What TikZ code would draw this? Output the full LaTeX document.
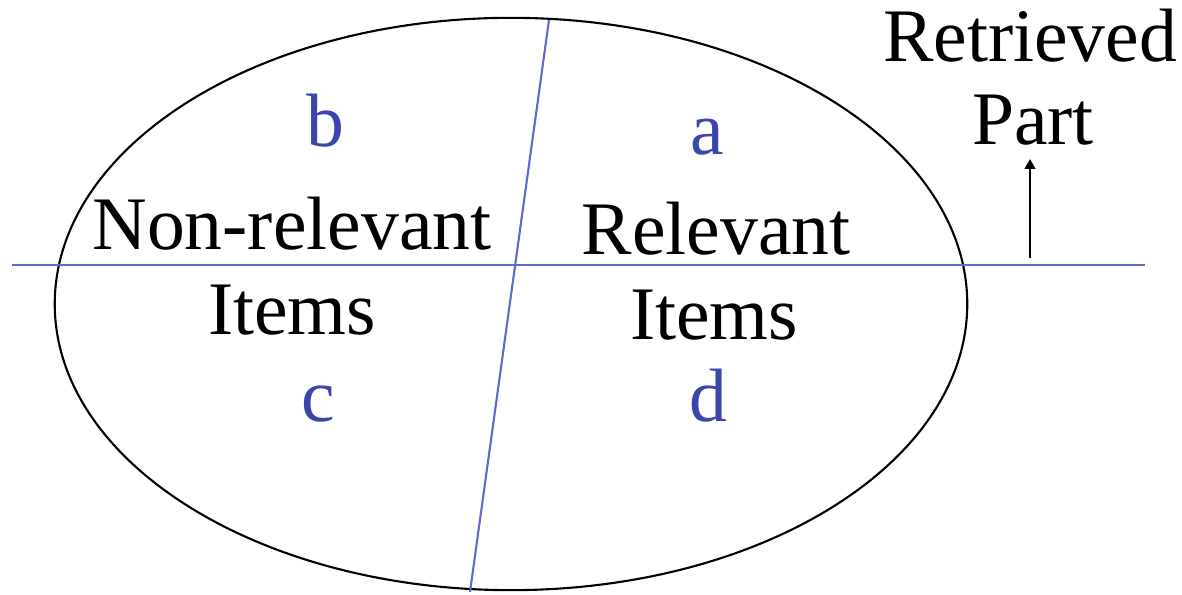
\documentclass[tikz,border=0pt]{standalone}
\usepackage{fontspec}
\setmainfont{Liberation Serif}
\usetikzlibrary{arrows.meta, shapes.geometric, positioning}

\definecolor{setblue}{RGB}{95,105,200}
\definecolor{letblue}{RGB}{60,70,170}

\begin{document}
\begin{tikzpicture}[
    x=0.01cm, y=-0.01cm,
    word/.style={anchor=base, inner sep=0pt, font=\fontsize{21.5}{24}\selectfont},
    letter/.style={anchor=base, inner sep=0pt, text=letblue, font=\fontsize{21.5}{24}\selectfont},
    cut/.style={setblue, line width=0.6pt},
    arr/.style={-{Triangle[length=2.8pt, width=3pt]}, line width=0.6pt}
  ]
  \useasboundingbox (0,0) rectangle (1182,595);

  % The collection
  \node[draw, ellipse, line width=0.6pt, minimum width=9.12cm,
        minimum height=5.72cm, inner sep=0pt] (coll) at (511,304) {};

  % Retrieved / relevant cuts
  \coordinate (hl) at (12,265);
  \coordinate (hr) at (1145,265);
  \coordinate (st) at (549,20);
  \coordinate (sb) at (470,592);
  \draw[cut] (hl) -- (hr);
  \draw[cut] (st) -- (sb);

  % Quadrant labels
  \node[letter] (b) at (325,147) {b};
  \node[letter] (a) at (707,155) {a};
  \node[letter] (c) at (318,422) {c};
  \node[letter] (d) at (708,422) {d};

  \node[word] (nonrel) at (292,250) {Non-relevant};
  \node[word] (rel) at (716,255) {Relevant};
  \node[word] (items1) at (292,335) {Items};
  \node[word] (items2) at (714,340) {Items};

  % Retrieved part
  \node[word] (retr) at (1030,62) {Retrieved};
  \node[word] (part) at (1033,145) {Part};
  \coordinate (arrbase) at (1030,258);
  \coordinate (arrtip) at (1030,159);
  \draw[arr] (arrbase) -- (arrtip);
\end{tikzpicture}
\end{document}
